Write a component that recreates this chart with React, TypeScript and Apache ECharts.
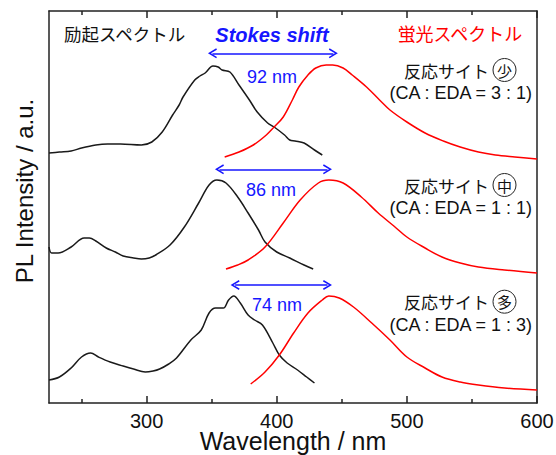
import React, { useEffect, useRef } from "react";
import * as echarts from "echarts";

// Wavelength (nm) / intensity (a.u., stacked offsets) pairs
const excTop = [[225,250],[233,251],[242,252],[250,255],[261,258],[270,259],[280,259],[296,258],[304,261],[312,271],[320,288],[325,298],[328,306],[337,323],[341,327],[345,330],[351,337],[355,336],[358,333],[364,331],[371,318],[379,303],[385,291],[393,280],[398,276],[406,268],[410,263],[414,262],[421,260],[429,253],[435,248]];
const emTop = [[360,246],[371,251],[382,258],[392,268],[398,276],[405,286],[412,303],[417,316],[424,328],[430,335],[438,338],[443,338],[451,335],[458,328],[469,316],[479,303],[487,293],[500,281],[514,270],[528,262],[541,256],[555,251],[568,248],[583,246],[600,244]];
const excMid = [[225,156],[227,150],[232,150],[242,156],[252,165],[256,165],[261,162],[269,155],[276,151],[282,147],[290,145],[296,144],[302,145],[307,148],[318,158],[329,176],[340,200],[348,218],[354,223],[361,220],[370,206],[378,190],[386,173],[391,161],[400,151],[410,145],[421,138],[428,134]];
const emMid = [[361,134],[370,138],[378,143],[391,156],[405,180],[418,203],[432,220],[440,223],[451,220],[465,206],[478,190],[490,177],[500,166],[514,155],[527,146],[541,140],[555,136],[575,133],[600,130]];
const excBot = [[225,23],[233,26],[242,35],[250,46],[257,50],[263,46],[272,41],[282,37],[290,34],[299,31],[305,32],[310,34],[317,39],[323,45],[334,63],[342,73],[348,90],[353,95],[359,95],[363,103],[367,107],[372,100],[378,88],[383,83],[389,78],[397,60],[402,48],[408,40],[416,33],[423,26],[429,20]];
const emBot = [[380,19],[391,31],[402,48],[413,70],[424,90],[435,103],[440,107],[448,105],[459,96],[473,80],[487,63],[500,46],[514,35],[527,26],[541,21],[555,18],[575,15],[600,13]];

// Stokes shift arrows: [startNm, endNm, level]
const shiftArrows = [[350.6, 443.5, 349.7], [356, 439, 233.7], [368, 439, 118]];
const shiftLabels = ["92 nm", "86 nm", "74 nm"];
const siteMarks = ["少", "中", "多"];
const ratioLabels = ["(CA : EDA = 3 : 1)", "(CA : EDA = 1 : 1)", "(CA : EDA = 1 : 3)"];

const majorTicks = [300, 400, 500, 600];
const minorTicks = [250, 350, 450, 550];

const LAT = "'Liberation Sans', Arial, sans-serif";
const CJK = "'Noto Sans CJK JP', sans-serif";
const BLUE = "#1616ff";
const chevron = "path://M5,0 L10,9 L8.6,9.8 L5,3.2 L1.4,9.8 L0,9 Z";

export default function App() {
  const ref = useRef<HTMLDivElement>(null);
  useEffect(() => {
    const chart = echarts.init(ref.current!, null, { renderer: "svg" });
    const axisLineStyle = { color: "#222", width: 1.5 };
    const baseX = { type: "value", min: 225, max: 600, splitLine: { show: false } };
    const lineSeries = (data: number[][], color: string, extra: any = {}) => ({
      type: "line", data, showSymbol: false, smooth: 0.35, silent: true,
      lineStyle: { color, width: 1.5 }, itemStyle: { color }, ...extra,
    });
    const labelBlocks: any[] = [];
    const siteY = [70, 185, 301.7];
    const ratioY = [93.3, 208.3, 325];
    const nmPos = [[272, 77], [271, 190], [277, 305]];
    for (let i = 0; i < 3; i++) {
      labelBlocks.push(
        { type: "text", x: 489, y: siteY[i], style: { text: "反応サイト", fontSize: 17, fontFamily: CJK, fill: "#111", align: "right", verticalAlign: "middle" } },
        { type: "circle", shape: { cx: 504.5, cy: siteY[i], r: 11.5 }, style: { fill: "none", stroke: "#222", lineWidth: 1 } },
        { type: "text", x: 504.5, y: siteY[i], style: { text: siteMarks[i], fontSize: 15, fontFamily: CJK, fill: "#111", align: "center", verticalAlign: "middle" } },
        { type: "text", x: 532, y: ratioY[i], style: { text: ratioLabels[i], fontSize: 18, fontFamily: LAT, fill: "#111", align: "right", verticalAlign: "middle" } },
        { type: "text", x: nmPos[i][0], y: nmPos[i][1], style: { text: shiftLabels[i], fontSize: 18, fontFamily: LAT, fill: BLUE, align: "center", verticalAlign: "middle" } },
      );
    }
    chart.setOption({
      animation: false,
      backgroundColor: "#fff",
      grid: { left: 49, right: 19, top: 11, bottom: 52, containLabel: false, outerBoundsMode: "none" },
      xAxis: [
        { ...baseX, position: "bottom",
          axisLine: { show: true, lineStyle: axisLineStyle },
          axisTick: { show: true, inside: true, length: 7, customValues: majorTicks, lineStyle: axisLineStyle },
          axisLabel: { show: true, customValues: majorTicks, fontSize: 20, lineHeight: 16, color: "#111", fontFamily: LAT, margin: 10 },
          name: "Wavelength / nm", nameLocation: "middle", nameGap: 27, nameMoveOverlap: false,
          nameTextStyle: { fontSize: 25, lineHeight: 22, color: "#111", fontFamily: LAT } },
        { ...baseX, position: "bottom", axisLine: { show: false },
          axisTick: { show: true, inside: true, length: 4, customValues: minorTicks, lineStyle: axisLineStyle },
          axisLabel: { show: false } },
        { ...baseX, position: "top",
          axisLine: { show: true, lineStyle: axisLineStyle },
          axisTick: { show: true, inside: true, length: 7, customValues: majorTicks, lineStyle: axisLineStyle },
          axisLabel: { show: false } },
        { ...baseX, position: "top", axisLine: { show: false },
          axisTick: { show: true, inside: true, length: 4, customValues: minorTicks, lineStyle: axisLineStyle },
          axisLabel: { show: false } },
      ],
      yAxis: [
        { type: "value", min: 0, max: 392, position: "left",
          axisLine: { show: true, lineStyle: axisLineStyle }, axisTick: { show: false }, axisLabel: { show: false }, splitLine: { show: false },
          name: "PL Intensity / a.u.", nameLocation: "middle", nameGap: 13, nameRotate: 90,
          nameTextStyle: { fontSize: 24, color: "#111", fontFamily: LAT, padding: [0, 0, 0, 32] } },
        { type: "value", min: 0, max: 392, position: "right",
          axisLine: { show: true, lineStyle: axisLineStyle }, axisTick: { show: false }, axisLabel: { show: false }, splitLine: { show: false } },
      ],
      series: [
        lineSeries(excTop, "#1a1a1a", {
          markLine: {
            silent: true, symbol: [chevron, chevron], symbolSize: [10, 9],
            label: { show: false },
            lineStyle: { color: BLUE, width: 1.5, type: "solid" },
            data: shiftArrows.map((a) => [{ coord: [a[0], a[2]] }, { coord: [a[1], a[2]] }]),
          },
        }),
        lineSeries(emTop, "#ff0000"),
        lineSeries(excMid, "#1a1a1a"),
        lineSeries(emMid, "#ff0000"),
        lineSeries(excBot, "#1a1a1a"),
        lineSeries(emBot, "#ff0000"),
      ],
      graphic: [
        { type: "text", x: 64, y: 33, style: { text: "励起スペクトル", fontSize: 17.5, fontFamily: CJK, fill: "#111", align: "left", verticalAlign: "middle" } },
        { type: "text", x: 460, y: 33, style: { text: "蛍光スペクトル", fontSize: 18, fontFamily: CJK, fill: "#ff0000", align: "center", verticalAlign: "middle" } },
        { type: "text", x: 272, y: 35, style: { text: "Stokes shift", fontSize: 20, fontWeight: "bold", fontStyle: "italic", fontFamily: LAT, fill: BLUE, align: "center", verticalAlign: "middle" } },
        ...labelBlocks,
      ],
    });
    return () => chart.dispose();
  }, []);
  return <div ref={ref} style={{ position: "absolute", left: 0, top: 0, width: 556, height: 455 }} />;
}
